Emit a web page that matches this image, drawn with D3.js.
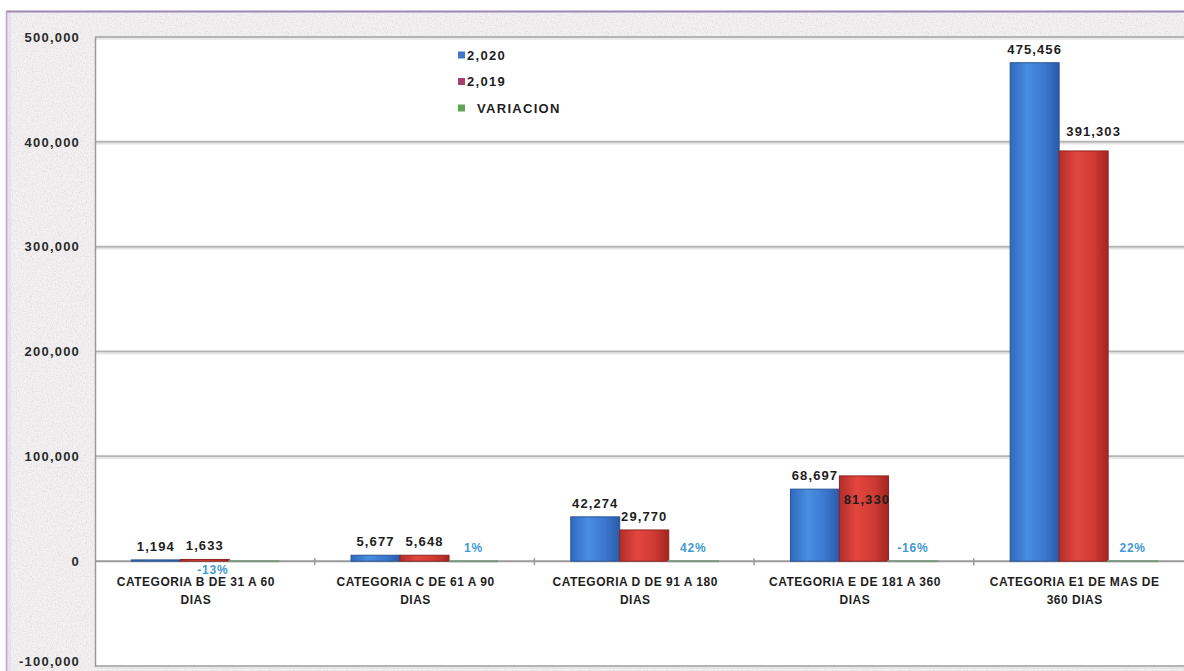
<!DOCTYPE html>
<html>
<head>
<meta charset="utf-8">
<script src="https://cdn.jsdelivr.net/npm/d3@7/dist/d3.min.js"></script>
<style>
  html, body { margin: 0; padding: 0; background: #ffffff; }
  svg { display: block; }
  text { font-family: "Liberation Sans", Arial, sans-serif; font-weight: bold; }
</style>
</head>
<body>
<svg id="chart" width="1184" height="671"></svg>
<script>
// ---- data ----
const categories = [
  "CATEGORIA B DE 31 A 60\nDIAS",
  "CATEGORIA C DE 61 A 90\nDIAS",
  "CATEGORIA D DE 91 A 180\nDIAS",
  "CATEGORIA E DE 181 A 360\nDIAS",
  "CATEGORIA E1 DE MAS DE\n360 DIAS"
];
const seriesNames = ["2,020", "2,019", "VARIACION"];
const values2020 = [1194, 5677, 42274, 68697, 475456];
const values2019 = [1633, 5648, 29770, 81330, 391303];
const variacion = [-0.13, 0.01, 0.42, -0.16, 0.22];
const yTicks = [-100000, 0, 100000, 200000, 300000, 400000, 500000];

// ---- layout ----
const W = 1184, H = 671;
const plot = { left: 95, top: 37, bottom: 666, step: 219.7 };
const plotRight = plot.left + plot.step * categories.length;

// hand-placed label offsets (series index | category index -> [dx, dy])
const labelNudge = {
  "1|3": [3, 37],
  "1|4": [10, -6],
  "2|0": [-41, 22]
};

// number formats with a plain hyphen for negatives
const loc = d3.formatLocale({ decimal: ".", thousands: ",", grouping: [3], currency: ["$", ""], minus: "-" });
const num = loc.format(",");
const pct = loc.format(".0%");

const svg = d3.select("#chart");
const defs = svg.append("defs");

// paper texture for the chart frame
const noise = defs.append("filter").attr("id", "paper")
  .attr("x", 0).attr("y", 0).attr("width", "100%").attr("height", "100%");
noise.append("feTurbulence").attr("type", "fractalNoise")
  .attr("baseFrequency", 0.8).attr("numOctaves", 2).attr("seed", 4).attr("result", "n");
noise.append("feColorMatrix").attr("in", "n").attr("type", "matrix")
  .attr("values", "0 0 0 0 0.62  0 0 0 0 0.61  0 0 0 0 0.63  0 0 0 -1.2 0.72")
  .attr("result", "speck");
noise.append("feFlood").attr("flood-color", "#f3f1f2").attr("result", "base");
noise.append("feComposite").attr("in", "speck").attr("in2", "base").attr("operator", "over");

// bar gradients
function hGrad(id, stops) {
  const g = defs.append("linearGradient").attr("id", id)
    .attr("x1", "0%").attr("x2", "100%").attr("y1", "0%").attr("y2", "0%");
  stops.forEach(([o, c]) => g.append("stop").attr("offset", o).attr("stop-color", c));
}
hGrad("gBlue", [["0%", "#2f69bf"], ["35%", "#4a8ee0"], ["70%", "#3b78cf"], ["100%", "#2a5aa8"]]);
hGrad("gRed", [["0%", "#b22d29"], ["35%", "#e2473f"], ["70%", "#d13a34"], ["100%", "#a52421"]]);
hGrad("gGreen", [["0%", "#5f9a58"], ["50%", "#7fbf72"], ["100%", "#5a9052"]]);

// frame background
svg.append("rect").attr("x", 6).attr("y", 11).attr("width", W - 6).attr("height", H - 11)
  .attr("filter", "url(#paper)");
svg.append("rect").attr("x", 6).attr("y", 11).attr("width", 5).attr("height", H - 11)
  .attr("fill", "#e6dcee").attr("opacity", 0.7);
svg.append("line").attr("x1", 6).attr("x2", W).attr("y1", 11.5).attr("y2", 11.5)
  .attr("stroke", "#9d86b2").attr("stroke-width", 2);
svg.append("line").attr("x1", 6.5).attr("x2", 6.5).attr("y1", 11).attr("y2", H)
  .attr("stroke", "#b9a6cc").attr("stroke-width", 1.5);

// plot area
svg.append("rect").attr("x", plot.left).attr("y", plot.top)
  .attr("width", plotRight - plot.left).attr("height", plot.bottom - plot.top)
  .attr("fill", "#ffffff");

// ---- scales ----
const y = d3.scaleLinear().domain([-100000, 500000]).range([plot.bottom, plot.top]);
const x = d3.scaleBand().domain(categories).range([plot.left, plotRight]).padding(0);
const xs = d3.scaleBand().domain(seriesNames).range([0, x.bandwidth()])
  .paddingInner(0).paddingOuter(0.742);

// gridlines
const grid = svg.append("g");
grid.selectAll("line.g").data(yTicks).join("line").attr("class", "g")
  .attr("x1", plot.left).attr("x2", plotRight)
  .attr("y1", d => y(d)).attr("y2", d => y(d))
  .attr("stroke", d => d === 0 ? "#9a9a9a" : "#b4b4b4")
  .attr("stroke-width", 2);
grid.selectAll("line.s").data(yTicks.filter(d => d !== 0)).join("line").attr("class", "s")
  .attr("x1", plot.left).attr("x2", plotRight)
  .attr("y1", d => y(d) + 2).attr("y2", d => y(d) + 2)
  .attr("stroke", "#e4e4e4").attr("stroke-width", 1.5);

// y axis
const yAxis = svg.append("g").attr("transform", `translate(${plot.left},0)`)
  .call(d3.axisLeft(y).tickValues(yTicks).tickSize(0).tickPadding(15).tickFormat(num));
yAxis.select(".domain").attr("stroke", "#9a9a9a").attr("stroke-width", 1.5);
yAxis.selectAll("text").attr("font-size", 13).attr("fill", "#2a2a2a")
  .attr("letter-spacing", 1.2)
  .attr("dy", d => d === yTicks[0] ? "-0.05em" : "0.32em")
  .style("font-family", '"Liberation Sans", Arial, sans-serif').style("font-weight", "bold");

// category ticks at band boundaries
const bounds = d3.range(1, categories.length).map(i => plot.left + i * x.step());
svg.append("g").selectAll("line").data(bounds).join("line")
  .attr("x1", d => d).attr("x2", d => d)
  .attr("y1", y(0) - 3).attr("y2", y(0) + 4)
  .attr("stroke", "#9a9a9a").attr("stroke-width", 1.5);

// ---- bars ----
const seriesData = [values2020, values2019, variacion];
const fills = ["url(#gBlue)", "url(#gRed)", "url(#gGreen)"];
const strokes = ["#2a5596", "#8f2420", "#7c9a82"];

const rows = [];
seriesData.forEach((vals, si) => vals.forEach((v, ci) => rows.push({ si, ci, v })));

svg.append("g").selectAll("rect").data(rows).join("rect")
  .attr("x", d => x(categories[d.ci]) + xs(seriesNames[d.si]))
  .attr("width", xs.bandwidth())
  .attr("y", d => y(Math.max(0, d.v)))
  .attr("height", d => Math.abs(y(d.v) - y(0)))
  .attr("fill", d => fills[d.si])
  .attr("stroke", d => strokes[d.si])
  .attr("stroke-width", d => d.si === 2 ? 2 : 1);

// value labels
svg.append("g").selectAll("text").data(rows).join("text")
  .attr("x", d => {
    const n = labelNudge[`${d.si}|${d.ci}`] || [0, 0];
    return x(categories[d.ci]) + xs(seriesNames[d.si]) + xs.bandwidth() / 2 + n[0];
  })
  .attr("y", d => {
    const n = labelNudge[`${d.si}|${d.ci}`] || [0, 0];
    return y(Math.max(0, d.v)) - 9 + n[1];
  })
  .attr("text-anchor", "middle")
  .attr("font-size", d => d.si === 2 ? 12 : 13)
  .attr("letter-spacing", d => d.si === 2 ? 0.8 : 1.1)
  .attr("fill", d => d.si === 2 ? "#3f9ad2" : "#1e1e1e")
  .text(d => d.si === 2 ? pct(d.v) : num(d.v));

// category labels
const catG = svg.append("g");
categories.forEach(c => {
  const cx = x(c) + x.bandwidth() / 2 - 9;
  const t = catG.append("text")
    .attr("x", cx)
    .attr("y", y(0) + 25)
    .attr("text-anchor", "middle")
    .attr("font-size", 12)
    .attr("letter-spacing", 0.5)
    .attr("fill", "#1e1e1e");
  c.split("\n").forEach((line, i) => {
    t.append("tspan").attr("x", cx).attr("dy", i === 0 ? 0 : 18).text(line);
  });
});

// legend
const legColors = ["#3f78c8", "#a8406e", "#62a455"];
const leg = svg.append("g").attr("transform", "translate(458,55)");
seriesNames.forEach((s, i) => {
  const g = leg.append("g").attr("transform", `translate(0,${i * 26.5})`);
  g.append("rect").attr("x", 0).attr("y", -3.5).attr("width", 7).attr("height", 7)
    .attr("fill", legColors[i]);
  g.append("text").attr("x", i === 2 ? 19 : 9).attr("y", 4.5)
    .attr("font-size", 13).attr("letter-spacing", 1.3).attr("fill", "#1e1e1e").text(s);
});
</script>
</body>
</html>
